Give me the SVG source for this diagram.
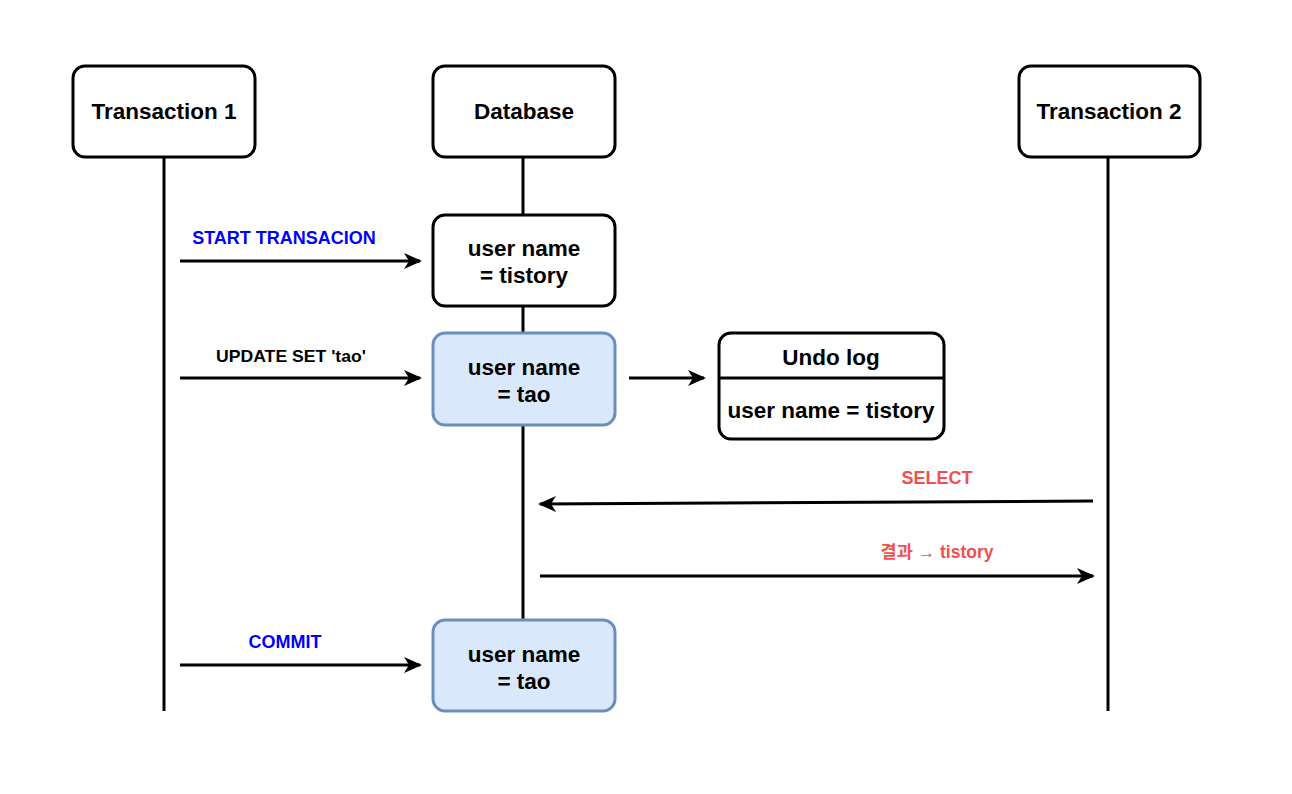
<svg xmlns="http://www.w3.org/2000/svg" width="1292" height="794" viewBox="0 0 1292 794">
<style>
.box{fill:#fff;stroke:#000;stroke-width:3}
.blue{fill:#dae8fc;stroke:#6c8ebf;stroke-width:3}
.t{font-family:"Liberation Sans",Arial,sans-serif;font-weight:bold;fill:#000;text-anchor:middle;font-size:22.5px}
.lbl{font-family:"Liberation Sans","Noto Sans CJK KR",sans-serif;font-weight:bold;text-anchor:middle}
.life{stroke:#000;stroke-width:3;fill:none}
.arr{stroke:#000;stroke-width:3;fill:none;marker-end:url(#ah)}
</style>
<defs>
<marker id="ah" viewBox="0 0 20 20" refX="16" refY="10" markerWidth="20" markerHeight="20" markerUnits="userSpaceOnUse" orient="auto">
<path d="M0,2 L18,10 L0,18 L5,10 Z" fill="#000"/>
</marker>
</defs>
<rect width="1292" height="794" fill="#fff"/>
<g id="lifelines">
<line class="life" x1="164" y1="157" x2="164" y2="711"/>
<line class="life" x1="1108" y1="157" x2="1108" y2="711"/>
<line class="life" x1="523" y1="157" x2="523" y2="620"/>
</g>
<g id="connectors">
<line class="arr" x1="180" y1="261" x2="420" y2="261"/>
<line class="arr" x1="180" y1="378" x2="420" y2="378"/>
<line class="arr" x1="629" y1="378" x2="704" y2="378"/>
<line class="arr" x1="1093" y1="501" x2="540" y2="504"/>
<line class="arr" x1="540" y1="576" x2="1093" y2="576"/>
<line class="arr" x1="180" y1="665" x2="420" y2="665"/>
</g>
<g id="labels">
<text class="lbl" x="284" y="244" font-size="18" fill="#0000ff">START TRANSACION</text>
<text class="lbl" x="291" y="362" font-size="17" fill="#000" textLength="150" lengthAdjust="spacingAndGlyphs">UPDATE SET 'tao'</text>
<text class="lbl" x="937" y="484" font-size="18" fill="#f04f4f">SELECT</text>
<text class="lbl" x="937" y="558" font-size="17.5" fill="#f04f4f">결과 → tistory</text>
<text class="lbl" x="285" y="648" font-size="18" fill="#0000ff">COMMIT</text>
</g>
<g id="tx1">
<rect class="box" x="73" y="66" width="182" height="91" rx="12"/>
<text class="t" x="164" y="119">Transaction 1</text>
</g>
<g id="db">
<rect class="box" x="433" y="66" width="182" height="91" rx="12"/>
<text class="t" x="524" y="119">Database</text>
</g>
<g id="tx2">
<rect class="box" x="1019" y="66" width="181" height="91" rx="12"/>
<text class="t" x="1109" y="119">Transaction 2</text>
</g>
<g id="state1">
<rect class="box" x="433" y="215" width="182" height="91" rx="12"/>
<text class="t" x="524" y="256">user name</text>
<text class="t" x="524" y="283">= tistory</text>
</g>
<g id="state2">
<rect class="blue" x="433" y="333" width="182" height="92" rx="12"/>
<text class="t" x="524" y="375">user name</text>
<text class="t" x="524" y="402">= tao</text>
</g>
<g id="undo">
<rect class="box" x="719" y="333" width="225" height="106" rx="12"/>
<line x1="719" y1="378" x2="944" y2="378" stroke="#000" stroke-width="3"/>
<text class="t" x="831" y="365">Undo log</text>
<text class="t" x="831" y="418">user name = tistory</text>
</g>
<g id="state3">
<rect class="blue" x="433" y="620" width="182" height="91" rx="12"/>
<text class="t" x="524" y="662">user name</text>
<text class="t" x="524" y="689">= tao</text>
</g>
</svg>
